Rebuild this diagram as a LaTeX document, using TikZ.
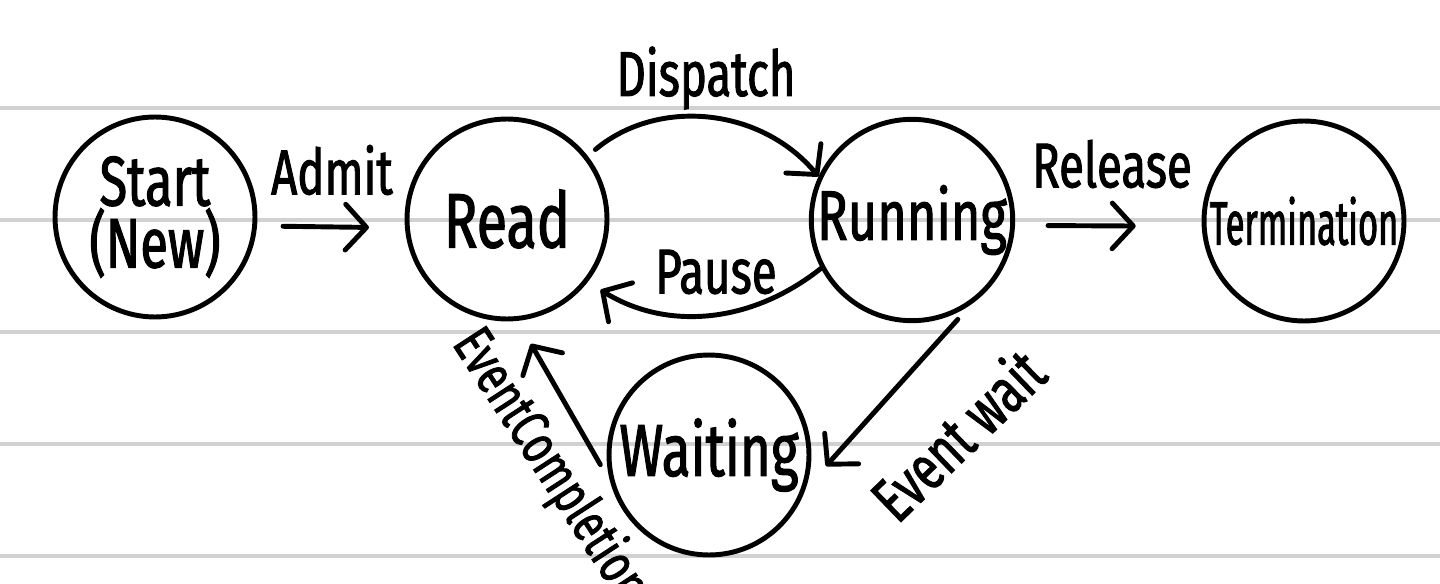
\documentclass[tikz,border=0pt]{standalone}
\usepackage{fontspec}
\setmainfont{Fira Sans}
\newfontfamily\hand[FakeStretch=0.72, FakeBold=1.5]{Fira Sans}
\newfontfamily\handnarrow[FakeStretch=0.56, FakeBold=1.5]{Fira Sans}
\usetikzlibrary{arrows.meta}

\begin{document}
\begin{tikzpicture}[
  x=0.02cm,
  y=-0.02cm,
  ruled/.style={line width=2.2pt, black!18},
  state/.style={circle, draw, line width=2.8pt, minimum size=4.0cm, inner sep=0pt, align=center, font=\hand\fontsize{40}{31}\selectfont},
  trans/.style={line width=2.8pt, line cap=round, -{Straight Barb[length=12pt, width=26pt, round]}},
  edgetext/.style={font=\hand\fontsize{36}{40}\selectfont}
]
\useasboundingbox (0,0) rectangle (1440,584);
% ruled paper
\foreach \ly in {108,220,332,444,556}
  \draw[ruled] (0,\ly) -- (1440,\ly);
% states
\node[state] (start) at (155,217) {Start\\(New)};
\node[state, font=\hand\fontsize{44}{44}\selectfont] (read) at (507,219) {Read};
\node[state] (running) at (912,220) {Running};
\node[state, font=\handnarrow\fontsize{35}{36}\selectfont] (term) at (1304,221) {Termination};
\node[state, font=\hand\fontsize{42}{42}\selectfont] (waiting) at (709,455) {Waiting};
% transitions
\draw[trans, shorten <=0.52cm, shorten >=0.72cm] (start.355) -- (read.185);
\draw[trans, shorten <=0.2cm] (read.38) to[bend left=45] (running.155);
\draw[trans, shorten >=0.3cm] (running.208) to[bend left=35] (read.322);
\draw[trans, shorten <=0.66cm, shorten >=1.32cm] (running.357) -- (term.183);
\draw[trans, shorten <=0.4cm, shorten >=0.6cm] (running.305) -- (waiting.341);
\draw[trans, shorten <=0.39cm, shorten >=0.53cm] (waiting.195) -- (read.276);
% labels
\node[edgetext] (admit) at (332,170) {Admit};
\node[edgetext] (dispatch) at (706,78) {Dispatch};
\node[edgetext] (pause) at (716,272) {Pause};
\node[edgetext] (release) at (1112,164) {Release};
\node[edgetext, rotate=44] (evwait) at (957,434) {Event wait};
\node[edgetext, rotate=-57, font=\hand\fontsize{32}{36}\selectfont] (evdone) at (550,466) {EventCompletion};
\end{tikzpicture}
\end{document}
